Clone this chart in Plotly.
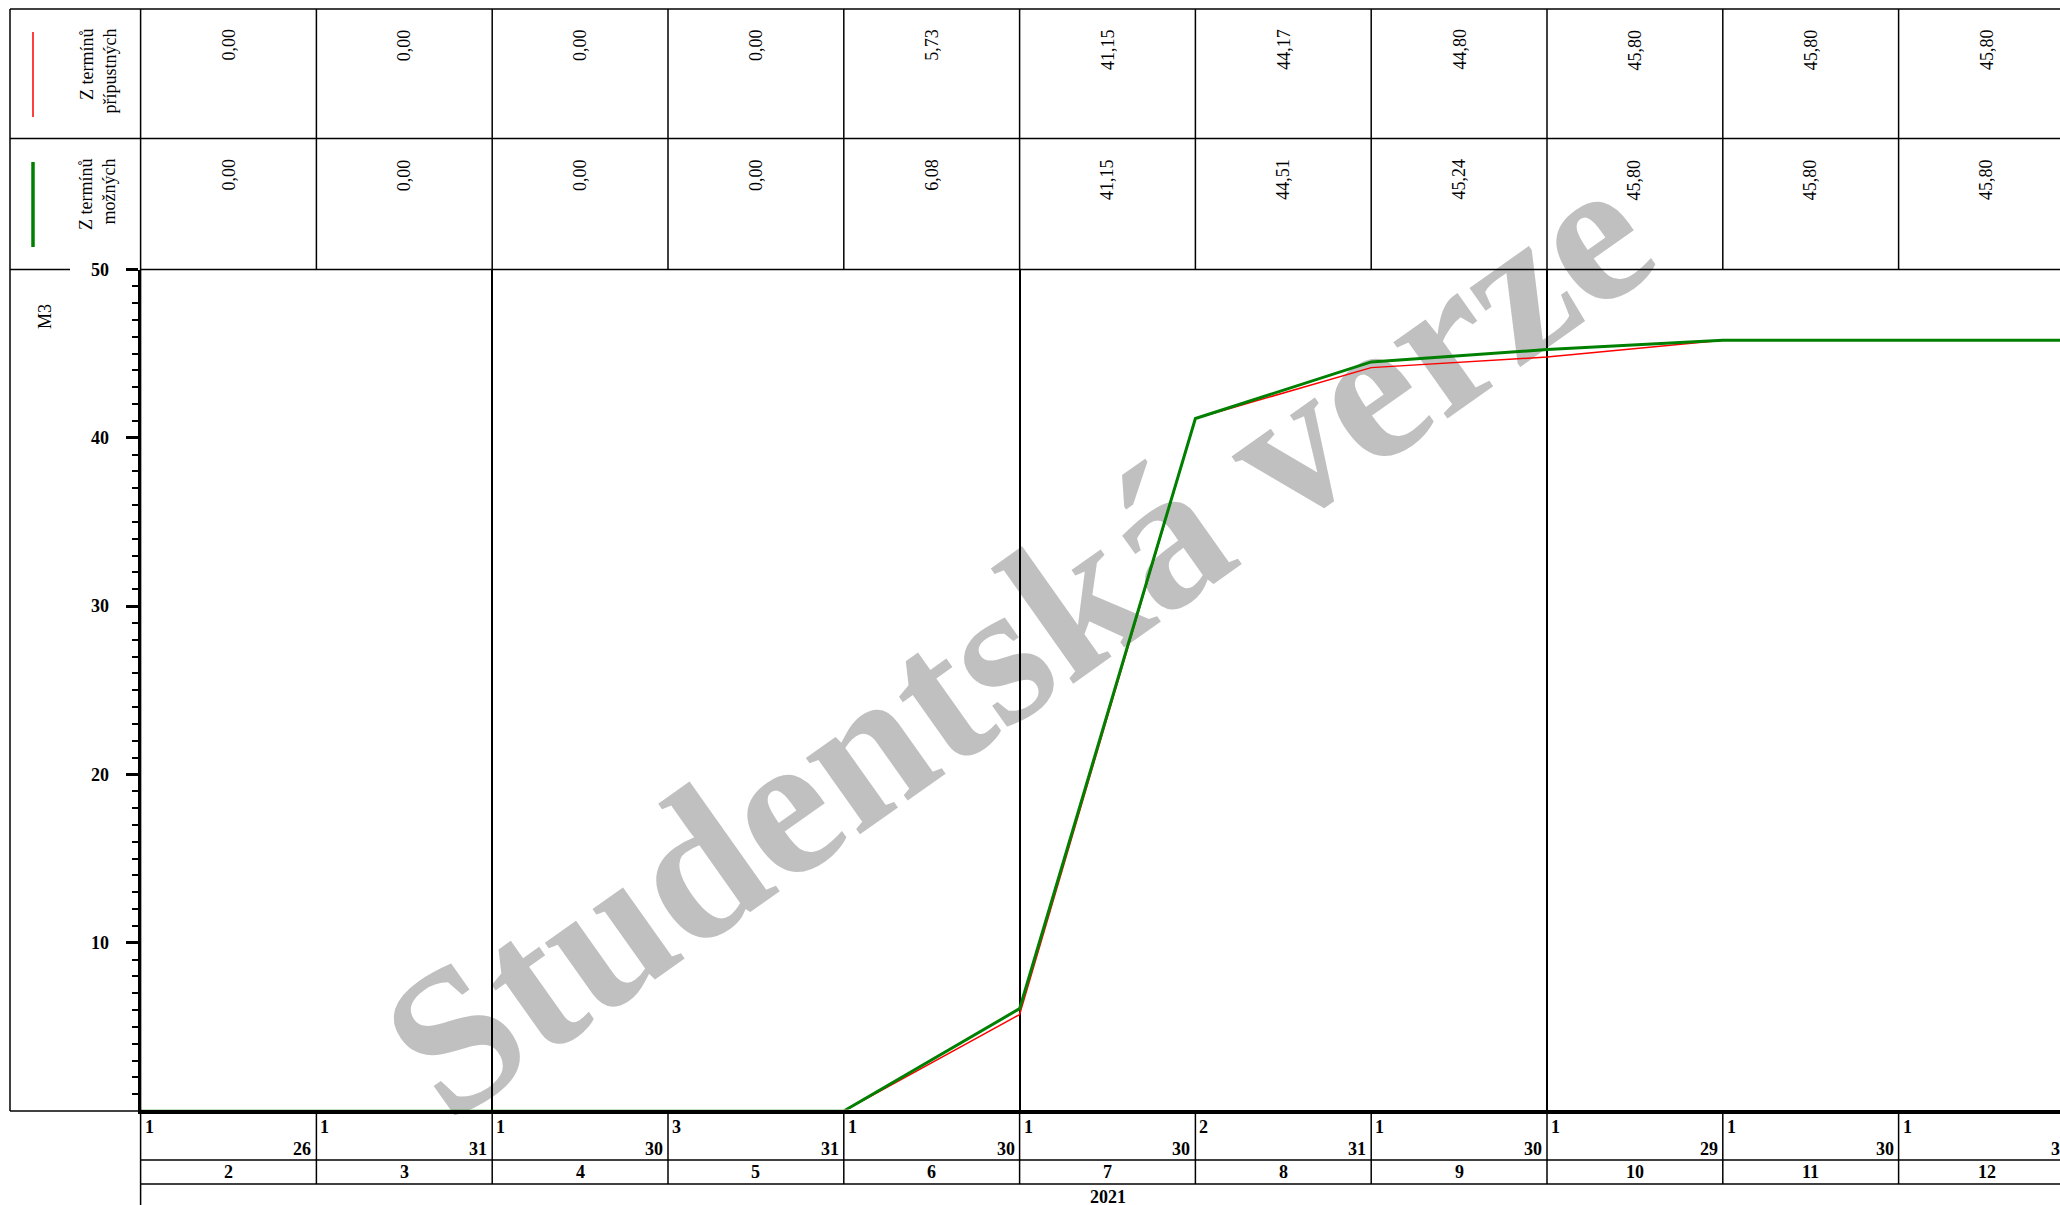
import plotly.graph_objects as go

# hodnoty
mesice = [2, 3, 4, 5, 6, 7, 8, 9, 10, 11, 12]
prvni_den = [1, 1, 1, 3, 1, 1, 2, 1, 1, 1, 1]
posledni_den = [26, 31, 30, 31, 30, 30, 31, 30, 29, 30, 31]
rok = "2021"
pocatek = 0.0
pripustne = [0.00, 0.00, 0.00, 0.00, 5.73, 41.15, 44.17, 44.80, 45.80, 45.80, 45.80]
mozne = [0.00, 0.00, 0.00, 0.00, 6.08, 41.15, 44.51, 45.24, 45.80, 45.80, 45.80]
ctvrtleti = [3, 6, 9]  # svisla cara za timto mesicem
popis_pripustne = "Z termínů<br>přípustných"
popis_mozne = "Z termínů<br>možných"
jednotka = "M3"
vodoznak = "Studentská verze"

# rozmery stranky v pixelech
W, H = 2060, 1205
X0 = 140.6      # zacatek prvniho mesice
MW = 175.8      # sirka jednoho mesice
Y50 = 269.5     # hodnota 50
Y0 = 1111.0     # hodnota 0 (schovana pod osou)
DOLNI = 1109.5  # spodni okraj grafu
HORNI = 9.0     # horni okraj tabulky
RADEK = 138.5   # hranice radku tabulky

FONT = "Liberation Serif"


def py(p):
    return 1 - p / H


def pxx(p):
    return p / W


# poloha konce mesice na ose x (mesic i zabira interval [i, i+1])
x_body = [0] + [i + 1 for i in range(len(mesice))]
k = (Y0 - Y50) / 50

fig = go.Figure()
fig.add_trace(go.Scatter(x=x_body, y=[pocatek] + pripustne, mode="lines",
                         line=dict(color="#ff0000", width=1.5), showlegend=False))
fig.add_trace(go.Scatter(x=x_body, y=[pocatek] + mozne, mode="lines",
                         line=dict(color="#008000", width=3), showlegend=False))

shapes = []
ann = []
cara = dict(color="black", width=1.5)

# vodoznak pod vsim ostatnim
cx, cy = 1004, 621
shapes.append(dict(type="rect", xref="paper", yref="paper", layer="below",
                   x0=pxx(cx - 50), x1=pxx(cx + 50), y0=py(cy + 50), y1=py(cy - 50),
                   line=dict(width=0), fillcolor="rgba(0,0,0,0)",
                   label=dict(text="<b>" + vodoznak + "</b>", textangle=-35.3,
                              textposition="middle center",
                              font=dict(family=FONT, size=204, color="#c0c0c0"))))

# ramecek tabulky a legendy
shapes += [
    dict(type="line", xref="paper", yref="paper", x0=pxx(10), x1=1, y0=py(HORNI), y1=py(HORNI), line=cara),
    dict(type="line", xref="paper", yref="paper", x0=pxx(10), x1=1, y0=py(RADEK), y1=py(RADEK), line=cara),
    dict(type="line", xref="paper", yref="paper", x0=pxx(X0), x1=1, y0=py(Y50), y1=py(Y50), line=cara),
    dict(type="line", xref="paper", yref="paper", x0=pxx(10), x1=pxx(70), y0=py(Y50), y1=py(Y50), line=cara),
    dict(type="line", xref="paper", yref="paper", x0=pxx(10), x1=pxx(10), y0=py(HORNI), y1=py(Y0), line=cara),
    dict(type="line", xref="paper", yref="paper", x0=pxx(10), x1=pxx(X0), y0=py(Y0), y1=py(Y0), line=cara),
    dict(type="line", xref="paper", yref="paper", x0=pxx(X0), x1=pxx(X0), y0=py(HORNI), y1=0, line=cara),
    dict(type="line", xref="paper", yref="paper", x0=pxx(X0), x1=1, y0=py(1160), y1=py(1160), line=cara),
    dict(type="line", xref="paper", yref="paper", x0=pxx(X0), x1=1, y0=py(1184), y1=py(1184), line=cara),
    # vzorky car v legende
    dict(type="line", xref="paper", yref="paper", x0=pxx(33), x1=pxx(33), y0=py(32), y1=py(117),
         line=dict(color="#ff0000", width=1.5)),
    dict(type="line", xref="paper", yref="paper", x0=pxx(33), x1=pxx(33), y0=py(162), y1=py(247),
         line=dict(color="#008000", width=3.5)),
]
for i in range(1, len(mesice) + 1):
    shapes.append(dict(type="line", xref="x", yref="paper", x0=i, x1=i, y0=py(HORNI), y1=py(Y50), line=cara))
    shapes.append(dict(type="line", xref="x", yref="paper", x0=i, x1=i, y0=py(Y0), y1=py(1184), line=cara))

# legenda
for text, top in [(popis_pripustne, RADEK - 110.5), (popis_mozne, Y50 - 111)]:
    ann.append(dict(xref="paper", yref="paper", x=pxx(98), y=py(top), text=text,
                    textangle=-90, xanchor="center", yanchor="top", align="right",
                    showarrow=False, borderpad=0, font=dict(family=FONT, size=18, color="black")))
ann.append(dict(xref="paper", yref="paper", x=pxx(45), y=py(317), text=jednotka, textangle=-90,
                xanchor="center", yanchor="middle", showarrow=False, borderpad=0,
                font=dict(family=FONT, size=18, color="black")))

# hodnoty v tabulce
for radek, hodnoty in [(HORNI + 19, pripustne), (RADEK + 19.5, mozne)]:
    for i, v in enumerate(hodnoty):
        ann.append(dict(xref="x", yref="paper", x=i + 0.5, y=py(radek),
                        text=f"{v:.2f}".replace(".", ","), textangle=-90,
                        xanchor="center", yanchor="top", showarrow=False, borderpad=0,
                        font=dict(family=FONT, size=18, color="black")))

# popisky casove osy
bold = dict(family=FONT, size=18, color="black")
for i, m in enumerate(mesice):
    ann.append(dict(xref="x", yref="paper", x=i, y=py(1127), xshift=3, text=f"<b>{prvni_den[i]}</b>",
                    xanchor="left", yanchor="middle", showarrow=False, borderpad=0, font=bold))
    if i + 1 <= (W - X0) / MW:
        ann.append(dict(xref="x", yref="paper", x=i + 1, y=py(1149), xshift=-4,
                        text=f"<b>{posledni_den[i]}</b>", xanchor="right", yanchor="middle",
                        showarrow=False, borderpad=0, font=bold))
    else:
        ann.append(dict(xref="paper", yref="paper", x=pxx(X0 + (i + 1) * MW - 4), y=py(1149),
                        text=f"<b>{posledni_den[i]}</b>", xanchor="right", yanchor="middle",
                        showarrow=False, borderpad=0, font=bold))
    ann.append(dict(xref="x", yref="paper", x=i + 0.5, y=py(1172), text=f"<b>{m}</b>",
                    xanchor="center", yanchor="middle", showarrow=False, borderpad=0, font=bold))
ann.append(dict(xref="x", yref="paper", x=len(mesice) / 2, y=py(1197), text=f"<b>{rok}</b>",
                xanchor="center", yanchor="middle", showarrow=False, borderpad=0, font=bold))

fig.update_layout(
    width=W, height=H, margin=dict(l=0, r=0, t=0, b=0, autoexpand=False),
    paper_bgcolor="white", plot_bgcolor="rgba(0,0,0,0)",
    shapes=shapes, annotations=ann, showlegend=False,
    xaxis=dict(domain=[X0 / W, 1], range=[0, (W - X0) / MW], showline=True, linewidth=4,
               linecolor="black", tickmode="array", tickvals=[m - 1 for m in ctvrtleti],
               showgrid=True, gridcolor="black", gridwidth=1.5, showticklabels=False,
               ticks="", zeroline=False, automargin=False),
    # nula lezi kousek pod okrajem grafu, takze cary v nule zakryje osa
    yaxis=dict(domain=[py(DOLNI), py(Y50)], range=[(Y0 - DOLNI) / k, 50], showline=True,
               linewidth=3, linecolor="black", tickmode="array", tickvals=[10, 20, 30, 40, 50],
               ticks="outside", ticklen=12, tickwidth=2.5, tickcolor="black",
               minor=dict(tickmode="linear", tick0=0, dtick=1, ticks="outside", ticklen=6,
                          tickwidth=1.5, tickcolor="black", showgrid=False),
               tickfont=dict(family=FONT, size=18, color="black", weight="bold"),
               ticklabelstandoff=13, showgrid=False, zeroline=False, automargin=False),
)

# stranka bez okraju, aby graf zacinal v rohu okna
fig.write_html("out.html", config={"displayModeBar": False},
               post_script="document.body.style.margin='0';")
